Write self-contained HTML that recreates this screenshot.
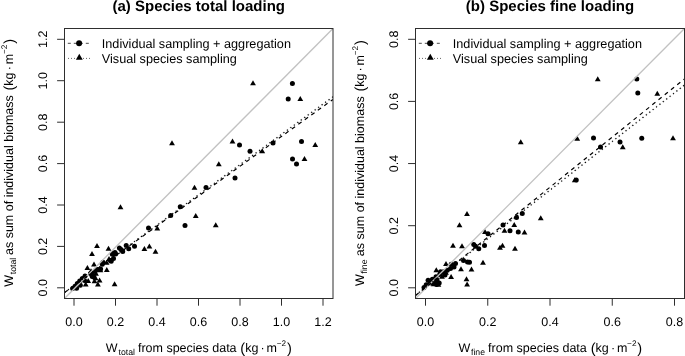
<!DOCTYPE html>
<html><head><meta charset="utf-8"><style>
html,body{margin:0;padding:0;background:#fff;}
svg{display:block;filter:grayscale(100%);}
text{font-family:"Liberation Sans",sans-serif;fill:#000;text-rendering:geometricPrecision;}
.ax{font-size:12.5px;}
.lg{font-size:12.68px;}
.sm{font-size:8.7px;}
.ttl{font-size:15px;font-weight:bold;}
</style></head><body>
<svg width="685" height="356" viewBox="0 0 685 356">
<rect width="685" height="356" fill="#fff"/>
<path d="M253.00 80.31L255.90 85.32L250.10 85.32Z"/>
<circle cx="292.40" cy="83.40" r="2.5"/>
<circle cx="288.20" cy="99.10" r="2.5"/>
<path d="M300.30 95.91L303.20 100.92L297.40 100.92Z"/>
<path d="M172.00 140.31L174.90 145.32L169.10 145.32Z"/>
<path d="M232.50 138.56L235.40 143.57L229.60 143.57Z"/>
<circle cx="239.50" cy="145.00" r="2.5"/>
<circle cx="250.00" cy="151.25" r="2.5"/>
<path d="M262.25 148.31L265.15 153.32L259.35 153.32Z"/>
<circle cx="273.00" cy="143.00" r="2.5"/>
<circle cx="301.50" cy="141.50" r="2.5"/>
<path d="M315.25 142.06L318.15 147.07L312.35 147.07Z"/>
<circle cx="292.50" cy="159.00" r="2.5"/>
<path d="M304.50 156.06L307.40 161.07L301.60 161.07Z"/>
<circle cx="296.50" cy="164.00" r="2.5"/>
<path d="M218.80 161.21L221.70 166.22L215.90 166.22Z"/>
<circle cx="235.00" cy="178.00" r="2.5"/>
<path d="M194.50 184.81L197.40 189.82L191.60 189.82Z"/>
<circle cx="206.00" cy="187.50" r="2.5"/>
<path d="M120.50 204.31L123.40 209.32L117.60 209.32Z"/>
<circle cx="180.25" cy="206.75" r="2.5"/>
<circle cx="170.70" cy="215.60" r="2.5"/>
<path d="M195.75 212.91L198.65 217.92L192.85 217.92Z"/>
<circle cx="185.00" cy="225.40" r="2.5"/>
<path d="M215.75 222.31L218.65 227.32L212.85 227.32Z"/>
<circle cx="148.50" cy="228.00" r="2.5"/>
<path d="M157.30 225.41L160.20 230.42L154.40 230.42Z"/>
<path d="M97.00 243.11L99.90 248.12L94.10 248.12Z"/>
<path d="M108.50 245.71L111.40 250.72L105.60 250.72Z"/>
<path d="M92.00 251.01L94.90 256.02L89.10 256.02Z"/>
<circle cx="126.20" cy="245.40" r="2.5"/>
<circle cx="134.50" cy="246.20" r="2.5"/>
<circle cx="128.70" cy="248.80" r="2.5"/>
<circle cx="119.40" cy="248.00" r="2.5"/>
<circle cx="122.70" cy="251.50" r="2.5"/>
<circle cx="121.00" cy="249.60" r="2.5"/>
<circle cx="115.00" cy="252.50" r="2.5"/>
<circle cx="113.30" cy="253.20" r="2.5"/>
<circle cx="115.60" cy="254.00" r="2.5"/>
<circle cx="112.30" cy="254.30" r="2.5"/>
<path d="M144.40 246.01L147.30 251.02L141.50 251.02Z"/>
<path d="M149.40 243.51L152.30 248.52L146.50 248.52Z"/>
<path d="M155.50 248.81L158.40 253.82L152.60 253.82Z"/>
<circle cx="113.50" cy="258.60" r="2.5"/>
<circle cx="110.40" cy="260.60" r="2.5"/>
<circle cx="111.20" cy="261.30" r="2.5"/>
<path d="M109.00 255.91L111.90 260.92L106.10 260.92Z"/>
<circle cx="103.00" cy="262.30" r="2.5"/>
<circle cx="102.30" cy="264.20" r="2.5"/>
<path d="M106.60 259.81L109.50 264.82L103.70 264.82Z"/>
<path d="M94.00 261.41L96.90 266.42L91.10 266.42Z"/>
<path d="M87.40 265.11L90.30 270.12L84.50 270.12Z"/>
<path d="M106.80 267.01L109.70 272.02L103.90 272.02Z"/>
<circle cx="97.50" cy="269.60" r="2.5"/>
<circle cx="100.60" cy="269.00" r="2.5"/>
<path d="M100.40 267.21L103.30 272.22L97.50 272.22Z"/>
<path d="M92.20 269.91L95.10 274.92L89.30 274.92Z"/>
<path d="M93.20 273.71L96.10 278.72L90.30 278.72Z"/>
<circle cx="93.80" cy="277.00" r="2.5"/>
<path d="M99.60 277.41L102.50 282.42L96.70 282.42Z"/>
<path d="M97.90 281.41L100.80 286.42L95.00 286.42Z"/>
<path d="M85.70 281.61L88.60 286.62L82.80 286.62Z"/>
<path d="M114.60 281.31L117.50 286.32L111.70 286.32Z"/>
<circle cx="72.60" cy="288.60" r="2.5"/>
<circle cx="75.00" cy="286.30" r="2.5"/>
<circle cx="77.30" cy="283.60" r="2.5"/>
<circle cx="79.70" cy="281.00" r="2.5"/>
<circle cx="82.30" cy="278.40" r="2.5"/>
<circle cx="85.00" cy="276.00" r="2.5"/>
<circle cx="76.60" cy="288.30" r="2.5"/>
<circle cx="80.30" cy="285.20" r="2.5"/>
<path d="M88.20 278.11L91.10 283.12L85.30 283.12Z"/>
<circle cx="90.50" cy="273.50" r="2.5"/>
<circle cx="92.00" cy="276.00" r="2.5"/>
<path d="M95.50 275.31L98.40 280.32L92.60 280.32Z"/>
<path d="M96.00 270.81L98.90 275.82L93.10 275.82Z"/>
<path d="M91.00 268.31L93.90 273.32L88.10 273.32Z"/>
<circle cx="95.00" cy="271.50" r="2.5"/>
<path d="M94.50 278.31L97.40 283.32L91.60 283.32Z"/>
<circle cx="84.50" cy="280.50" r="2.5"/>
<clipPath id="cl"><rect x="64.5" y="28.5" width="268.5" height="270.0"/></clipPath>
<g clip-path="url(#cl)">
<line x1="64.5" y1="298.5" x2="333.0" y2="28.5" stroke="#c2c2c2" stroke-width="1.35"/>
<path d="M64.38 292.15a0.6 0.6 0 1 0 1.2 0a0.6 0.6 0 1 0 -1.2 0M67.86 289.61a0.6 0.6 0 1 0 1.2 0a0.6 0.6 0 1 0 -1.2 0M71.33 287.08a0.6 0.6 0 1 0 1.2 0a0.6 0.6 0 1 0 -1.2 0M74.81 284.55a0.6 0.6 0 1 0 1.2 0a0.6 0.6 0 1 0 -1.2 0M78.28 282.02a0.6 0.6 0 1 0 1.2 0a0.6 0.6 0 1 0 -1.2 0M81.76 279.48a0.6 0.6 0 1 0 1.2 0a0.6 0.6 0 1 0 -1.2 0M85.23 276.95a0.6 0.6 0 1 0 1.2 0a0.6 0.6 0 1 0 -1.2 0M88.71 274.42a0.6 0.6 0 1 0 1.2 0a0.6 0.6 0 1 0 -1.2 0M92.18 271.88a0.6 0.6 0 1 0 1.2 0a0.6 0.6 0 1 0 -1.2 0M95.66 269.35a0.6 0.6 0 1 0 1.2 0a0.6 0.6 0 1 0 -1.2 0M99.13 266.82a0.6 0.6 0 1 0 1.2 0a0.6 0.6 0 1 0 -1.2 0M102.61 264.29a0.6 0.6 0 1 0 1.2 0a0.6 0.6 0 1 0 -1.2 0M106.08 261.75a0.6 0.6 0 1 0 1.2 0a0.6 0.6 0 1 0 -1.2 0M109.56 259.22a0.6 0.6 0 1 0 1.2 0a0.6 0.6 0 1 0 -1.2 0M113.03 256.69a0.6 0.6 0 1 0 1.2 0a0.6 0.6 0 1 0 -1.2 0M116.51 254.16a0.6 0.6 0 1 0 1.2 0a0.6 0.6 0 1 0 -1.2 0M119.98 251.62a0.6 0.6 0 1 0 1.2 0a0.6 0.6 0 1 0 -1.2 0M123.46 249.09a0.6 0.6 0 1 0 1.2 0a0.6 0.6 0 1 0 -1.2 0M126.93 246.56a0.6 0.6 0 1 0 1.2 0a0.6 0.6 0 1 0 -1.2 0M130.41 244.02a0.6 0.6 0 1 0 1.2 0a0.6 0.6 0 1 0 -1.2 0M133.88 241.49a0.6 0.6 0 1 0 1.2 0a0.6 0.6 0 1 0 -1.2 0M137.36 238.96a0.6 0.6 0 1 0 1.2 0a0.6 0.6 0 1 0 -1.2 0M140.83 236.43a0.6 0.6 0 1 0 1.2 0a0.6 0.6 0 1 0 -1.2 0M144.31 233.89a0.6 0.6 0 1 0 1.2 0a0.6 0.6 0 1 0 -1.2 0M147.78 231.36a0.6 0.6 0 1 0 1.2 0a0.6 0.6 0 1 0 -1.2 0M151.26 228.83a0.6 0.6 0 1 0 1.2 0a0.6 0.6 0 1 0 -1.2 0M154.73 226.29a0.6 0.6 0 1 0 1.2 0a0.6 0.6 0 1 0 -1.2 0M158.21 223.76a0.6 0.6 0 1 0 1.2 0a0.6 0.6 0 1 0 -1.2 0M161.68 221.23a0.6 0.6 0 1 0 1.2 0a0.6 0.6 0 1 0 -1.2 0M165.16 218.70a0.6 0.6 0 1 0 1.2 0a0.6 0.6 0 1 0 -1.2 0M168.63 216.16a0.6 0.6 0 1 0 1.2 0a0.6 0.6 0 1 0 -1.2 0M172.11 213.63a0.6 0.6 0 1 0 1.2 0a0.6 0.6 0 1 0 -1.2 0M175.58 211.10a0.6 0.6 0 1 0 1.2 0a0.6 0.6 0 1 0 -1.2 0M179.06 208.57a0.6 0.6 0 1 0 1.2 0a0.6 0.6 0 1 0 -1.2 0M182.53 206.03a0.6 0.6 0 1 0 1.2 0a0.6 0.6 0 1 0 -1.2 0M186.01 203.50a0.6 0.6 0 1 0 1.2 0a0.6 0.6 0 1 0 -1.2 0M189.48 200.97a0.6 0.6 0 1 0 1.2 0a0.6 0.6 0 1 0 -1.2 0M192.96 198.43a0.6 0.6 0 1 0 1.2 0a0.6 0.6 0 1 0 -1.2 0M196.43 195.90a0.6 0.6 0 1 0 1.2 0a0.6 0.6 0 1 0 -1.2 0M199.91 193.37a0.6 0.6 0 1 0 1.2 0a0.6 0.6 0 1 0 -1.2 0M203.38 190.84a0.6 0.6 0 1 0 1.2 0a0.6 0.6 0 1 0 -1.2 0M206.86 188.30a0.6 0.6 0 1 0 1.2 0a0.6 0.6 0 1 0 -1.2 0M210.33 185.77a0.6 0.6 0 1 0 1.2 0a0.6 0.6 0 1 0 -1.2 0M213.81 183.24a0.6 0.6 0 1 0 1.2 0a0.6 0.6 0 1 0 -1.2 0M217.28 180.71a0.6 0.6 0 1 0 1.2 0a0.6 0.6 0 1 0 -1.2 0M220.76 178.17a0.6 0.6 0 1 0 1.2 0a0.6 0.6 0 1 0 -1.2 0M224.23 175.64a0.6 0.6 0 1 0 1.2 0a0.6 0.6 0 1 0 -1.2 0M227.71 173.11a0.6 0.6 0 1 0 1.2 0a0.6 0.6 0 1 0 -1.2 0M231.18 170.57a0.6 0.6 0 1 0 1.2 0a0.6 0.6 0 1 0 -1.2 0M234.66 168.04a0.6 0.6 0 1 0 1.2 0a0.6 0.6 0 1 0 -1.2 0M238.13 165.51a0.6 0.6 0 1 0 1.2 0a0.6 0.6 0 1 0 -1.2 0M241.61 162.98a0.6 0.6 0 1 0 1.2 0a0.6 0.6 0 1 0 -1.2 0M245.08 160.44a0.6 0.6 0 1 0 1.2 0a0.6 0.6 0 1 0 -1.2 0M248.56 157.91a0.6 0.6 0 1 0 1.2 0a0.6 0.6 0 1 0 -1.2 0M252.03 155.38a0.6 0.6 0 1 0 1.2 0a0.6 0.6 0 1 0 -1.2 0M255.51 152.85a0.6 0.6 0 1 0 1.2 0a0.6 0.6 0 1 0 -1.2 0M258.98 150.31a0.6 0.6 0 1 0 1.2 0a0.6 0.6 0 1 0 -1.2 0M262.46 147.78a0.6 0.6 0 1 0 1.2 0a0.6 0.6 0 1 0 -1.2 0M265.93 145.25a0.6 0.6 0 1 0 1.2 0a0.6 0.6 0 1 0 -1.2 0M269.41 142.71a0.6 0.6 0 1 0 1.2 0a0.6 0.6 0 1 0 -1.2 0M272.88 140.18a0.6 0.6 0 1 0 1.2 0a0.6 0.6 0 1 0 -1.2 0M276.36 137.65a0.6 0.6 0 1 0 1.2 0a0.6 0.6 0 1 0 -1.2 0M279.83 135.12a0.6 0.6 0 1 0 1.2 0a0.6 0.6 0 1 0 -1.2 0M283.31 132.58a0.6 0.6 0 1 0 1.2 0a0.6 0.6 0 1 0 -1.2 0M286.78 130.05a0.6 0.6 0 1 0 1.2 0a0.6 0.6 0 1 0 -1.2 0M290.26 127.52a0.6 0.6 0 1 0 1.2 0a0.6 0.6 0 1 0 -1.2 0M293.73 124.98a0.6 0.6 0 1 0 1.2 0a0.6 0.6 0 1 0 -1.2 0M297.21 122.45a0.6 0.6 0 1 0 1.2 0a0.6 0.6 0 1 0 -1.2 0M300.68 119.92a0.6 0.6 0 1 0 1.2 0a0.6 0.6 0 1 0 -1.2 0M304.16 117.39a0.6 0.6 0 1 0 1.2 0a0.6 0.6 0 1 0 -1.2 0M307.63 114.85a0.6 0.6 0 1 0 1.2 0a0.6 0.6 0 1 0 -1.2 0M311.11 112.32a0.6 0.6 0 1 0 1.2 0a0.6 0.6 0 1 0 -1.2 0M314.58 109.79a0.6 0.6 0 1 0 1.2 0a0.6 0.6 0 1 0 -1.2 0M318.05 107.26a0.6 0.6 0 1 0 1.2 0a0.6 0.6 0 1 0 -1.2 0M321.53 104.72a0.6 0.6 0 1 0 1.2 0a0.6 0.6 0 1 0 -1.2 0M325.00 102.19a0.6 0.6 0 1 0 1.2 0a0.6 0.6 0 1 0 -1.2 0M328.48 99.66a0.6 0.6 0 1 0 1.2 0a0.6 0.6 0 1 0 -1.2 0M331.95 97.12a0.6 0.6 0 1 0 1.2 0a0.6 0.6 0 1 0 -1.2 0" fill="#000" stroke="#000" stroke-width="0.25"/>
<line x1="64.5" y1="292.5" x2="333" y2="99.4" stroke="#000" stroke-width="1.2" stroke-dasharray="4 4"/>
</g>
<rect x="64.5" y="28.5" width="268.5" height="270.0" fill="none" stroke="#2e2e2e" stroke-width="1"/>
<line x1="57.1" y1="287.8" x2="64.5" y2="287.8" stroke="#2e2e2e" stroke-width="1"/>
<text transform="translate(46.9 287.8) rotate(-90)" text-anchor="middle" class="ax">0.0</text>
<line x1="57.1" y1="246.4" x2="64.5" y2="246.4" stroke="#2e2e2e" stroke-width="1"/>
<text transform="translate(46.9 246.4) rotate(-90)" text-anchor="middle" class="ax">0.2</text>
<line x1="57.1" y1="205.0" x2="64.5" y2="205.0" stroke="#2e2e2e" stroke-width="1"/>
<text transform="translate(46.9 205.0) rotate(-90)" text-anchor="middle" class="ax">0.4</text>
<line x1="57.1" y1="163.6" x2="64.5" y2="163.6" stroke="#2e2e2e" stroke-width="1"/>
<text transform="translate(46.9 163.6) rotate(-90)" text-anchor="middle" class="ax">0.6</text>
<line x1="57.1" y1="122.2" x2="64.5" y2="122.2" stroke="#2e2e2e" stroke-width="1"/>
<text transform="translate(46.9 122.2) rotate(-90)" text-anchor="middle" class="ax">0.8</text>
<line x1="57.1" y1="80.7" x2="64.5" y2="80.7" stroke="#2e2e2e" stroke-width="1"/>
<text transform="translate(46.9 80.7) rotate(-90)" text-anchor="middle" class="ax">1.0</text>
<line x1="57.1" y1="39.3" x2="64.5" y2="39.3" stroke="#2e2e2e" stroke-width="1"/>
<text transform="translate(46.9 39.3) rotate(-90)" text-anchor="middle" class="ax">1.2</text>
<line x1="74.0" y1="298.5" x2="74.0" y2="305.7" stroke="#2e2e2e" stroke-width="1"/>
<text x="74.0" y="325.7" text-anchor="middle" class="ax">0.0</text>
<line x1="115.5" y1="298.5" x2="115.5" y2="305.7" stroke="#2e2e2e" stroke-width="1"/>
<text x="115.5" y="325.7" text-anchor="middle" class="ax">0.2</text>
<line x1="157.0" y1="298.5" x2="157.0" y2="305.7" stroke="#2e2e2e" stroke-width="1"/>
<text x="157.0" y="325.7" text-anchor="middle" class="ax">0.4</text>
<line x1="198.5" y1="298.5" x2="198.5" y2="305.7" stroke="#2e2e2e" stroke-width="1"/>
<text x="198.5" y="325.7" text-anchor="middle" class="ax">0.6</text>
<line x1="240.0" y1="298.5" x2="240.0" y2="305.7" stroke="#2e2e2e" stroke-width="1"/>
<text x="240.0" y="325.7" text-anchor="middle" class="ax">0.8</text>
<line x1="281.5" y1="298.5" x2="281.5" y2="305.7" stroke="#2e2e2e" stroke-width="1"/>
<text x="281.5" y="325.7" text-anchor="middle" class="ax">1.0</text>
<line x1="323.0" y1="298.5" x2="323.0" y2="305.7" stroke="#2e2e2e" stroke-width="1"/>
<text x="323.0" y="325.7" text-anchor="middle" class="ax">1.2</text>
<text x="198.75" y="11.3" text-anchor="middle" class="ttl">(a) Species total loading</text>
<text x="105.74" y="352.00" style="font-size:12.5px">W</text>
<text x="118.47" y="355.00" style="font-size:8.7px">total</text>
<text x="137.92" y="352.00" style="font-size:12.5px">from species data</text>
<text x="240.29" y="352.50" style="font-size:14.6px">(</text>
<text x="245.16" y="352.00" style="font-size:12.5px">kg</text>
<text x="260.48" y="352.00" style="font-size:12.5px">·</text>
<text x="266.52" y="352.00" style="font-size:12.5px">m</text>
<text x="276.70" y="346.10" style="font-size:8.2px">−2</text>
<text x="286.96" y="352.50" style="font-size:14.6px">)</text>
<text transform="translate(12.60 286.86) rotate(-90)" style="font-size:12.5px">W</text>
<text transform="translate(15.60 274.13) rotate(-90)" style="font-size:8.7px">total</text>
<text transform="translate(12.60 255.03) rotate(-90)" style="font-size:12.5px">as sum of individual biomass</text>
<text transform="translate(13.90 90.51) rotate(-90)" style="font-size:14.6px">(</text>
<text transform="translate(12.60 85.64) rotate(-90)" style="font-size:12.5px">kg</text>
<text transform="translate(12.60 70.33) rotate(-90)" style="font-size:12.5px">·</text>
<text transform="translate(12.60 64.28) rotate(-90)" style="font-size:12.5px">m</text>
<text transform="translate(6.70 54.10) rotate(-90)" style="font-size:8.2px">−2</text>
<text transform="translate(13.90 43.84) rotate(-90)" style="font-size:14.6px">)</text>
<line x1="67.8" y1="43.3" x2="89.7" y2="43.3" stroke="#4a4a4a" stroke-width="1" stroke-dasharray="3 3"/>
<circle cx="79.1" cy="43.2" r="3.0"/>
<line x1="68.1" y1="58.4" x2="90.1" y2="58.4" stroke="#555" stroke-width="1" stroke-dasharray="0.9 2.1"/>
<path d="M79.30 53.73L82.73 59.68L75.87 59.68Z"/>
<text x="101.8" y="47.8" class="lg">Individual sampling + aggregation</text>
<text x="101.8" y="62.5" class="lg">Visual species sampling</text>
<path d="M597.75 76.31L600.65 81.32L594.85 81.32Z"/>
<circle cx="636.80" cy="79.00" r="2.5"/>
<circle cx="637.80" cy="93.10" r="2.5"/>
<path d="M657.30 90.71L660.20 95.72L654.40 95.72Z"/>
<path d="M520.75 139.31L523.65 144.32L517.85 144.32Z"/>
<path d="M577.25 135.81L580.15 140.82L574.35 140.82Z"/>
<circle cx="593.50" cy="138.00" r="2.5"/>
<circle cx="600.50" cy="147.00" r="2.5"/>
<circle cx="620.00" cy="142.00" r="2.5"/>
<path d="M622.75 144.31L625.65 149.32L619.85 149.32Z"/>
<circle cx="641.75" cy="138.25" r="2.5"/>
<path d="M673.00 135.31L675.90 140.32L670.10 140.32Z"/>
<path d="M574.75 177.31L577.65 182.32L571.85 182.32Z"/>
<circle cx="576.25" cy="180.00" r="2.5"/>
<path d="M467.00 211.06L469.90 216.07L464.10 216.07Z"/>
<path d="M459.50 222.31L462.40 227.32L456.60 227.32Z"/>
<path d="M540.75 215.31L543.65 220.32L537.85 220.32Z"/>
<circle cx="516.50" cy="217.50" r="2.5"/>
<circle cx="522.25" cy="213.50" r="2.5"/>
<circle cx="503.00" cy="225.00" r="2.5"/>
<path d="M514.25 222.06L517.15 227.07L511.35 227.07Z"/>
<path d="M504.50 227.81L507.40 232.82L501.60 232.82Z"/>
<circle cx="510.00" cy="230.75" r="2.5"/>
<circle cx="518.25" cy="232.00" r="2.5"/>
<path d="M524.50 229.41L527.40 234.42L521.60 234.42Z"/>
<path d="M485.00 229.06L487.90 234.07L482.10 234.07Z"/>
<circle cx="488.00" cy="233.75" r="2.5"/>
<path d="M453.00 242.81L455.90 247.82L450.10 247.82Z"/>
<path d="M462.00 243.31L464.90 248.32L459.10 248.32Z"/>
<circle cx="473.75" cy="244.50" r="2.5"/>
<circle cx="475.50" cy="246.25" r="2.5"/>
<circle cx="478.75" cy="248.75" r="2.5"/>
<circle cx="484.50" cy="245.50" r="2.5"/>
<path d="M500.00 244.81L502.90 249.82L497.10 249.82Z"/>
<path d="M502.50 242.81L505.40 247.82L499.60 247.82Z"/>
<path d="M515.00 245.81L517.90 250.82L512.10 250.82Z"/>
<path d="M483.00 259.81L485.90 264.82L480.10 264.82Z"/>
<circle cx="463.50" cy="260.50" r="2.5"/>
<circle cx="467.50" cy="262.00" r="2.5"/>
<circle cx="469.50" cy="262.30" r="2.5"/>
<path d="M446.00 260.91L448.90 265.92L443.10 265.92Z"/>
<path d="M461.00 266.31L463.90 271.32L458.10 271.32Z"/>
<path d="M471.50 266.41L474.40 271.42L468.60 271.42Z"/>
<path d="M436.30 267.21L439.20 272.22L433.40 272.22Z"/>
<path d="M451.10 274.11L454.00 279.12L448.20 279.12Z"/>
<path d="M466.50 276.31L469.40 281.32L463.60 281.32Z"/>
<path d="M467.10 281.51L470.00 286.52L464.20 286.52Z"/>
<circle cx="451.20" cy="264.30" r="2.5"/>
<circle cx="455.50" cy="263.60" r="2.5"/>
<circle cx="450.50" cy="268.50" r="2.5"/>
<circle cx="454.00" cy="267.00" r="2.5"/>
<circle cx="447.30" cy="270.20" r="2.5"/>
<circle cx="443.50" cy="271.70" r="2.5"/>
<circle cx="439.80" cy="274.20" r="2.5"/>
<circle cx="436.00" cy="276.70" r="2.5"/>
<circle cx="432.40" cy="279.20" r="2.5"/>
<circle cx="428.10" cy="280.30" r="2.5"/>
<circle cx="426.20" cy="284.70" r="2.5"/>
<path d="M436.00 278.81L438.90 283.82L433.10 283.82Z"/>
<path d="M438.40 281.81L441.30 286.82L435.50 286.82Z"/>
<path d="M433.60 281.31L436.50 286.32L430.70 286.32Z"/>
<path d="M446.00 269.81L448.90 274.82L443.10 274.82Z"/>
<path d="M442.00 273.81L444.90 278.82L439.10 278.82Z"/>
<circle cx="445.00" cy="275.00" r="2.5"/>
<circle cx="440.50" cy="271.70" r="2.5"/>
<circle cx="430.00" cy="283.00" r="2.5"/>
<circle cx="424.00" cy="287.50" r="2.5"/>
<circle cx="437.00" cy="280.00" r="2.5"/>
<circle cx="439.20" cy="283.00" r="2.5"/>
<circle cx="434.00" cy="279.50" r="2.5"/>
<circle cx="432.00" cy="282.50" r="2.5"/>
<circle cx="436.50" cy="284.50" r="2.5"/>
<clipPath id="cr"><rect x="415.5" y="28.5" width="269.0" height="270.0"/></clipPath>
<g clip-path="url(#cr)">
<line x1="415.5" y1="298.5" x2="684.5" y2="28.5" stroke="#c2c2c2" stroke-width="1.35"/>
<line x1="415.5" y1="295.5" x2="684.5" y2="78.9" stroke="#000" stroke-width="1.2" stroke-dasharray="4 4"/>
<path d="M415.37 294.83a0.6 0.6 0 1 0 1.2 0a0.6 0.6 0 1 0 -1.2 0M418.76 292.18a0.6 0.6 0 1 0 1.2 0a0.6 0.6 0 1 0 -1.2 0M422.15 289.54a0.6 0.6 0 1 0 1.2 0a0.6 0.6 0 1 0 -1.2 0M425.54 286.89a0.6 0.6 0 1 0 1.2 0a0.6 0.6 0 1 0 -1.2 0M428.93 284.24a0.6 0.6 0 1 0 1.2 0a0.6 0.6 0 1 0 -1.2 0M432.31 281.59a0.6 0.6 0 1 0 1.2 0a0.6 0.6 0 1 0 -1.2 0M435.70 278.94a0.6 0.6 0 1 0 1.2 0a0.6 0.6 0 1 0 -1.2 0M439.09 276.30a0.6 0.6 0 1 0 1.2 0a0.6 0.6 0 1 0 -1.2 0M442.48 273.65a0.6 0.6 0 1 0 1.2 0a0.6 0.6 0 1 0 -1.2 0M445.87 271.00a0.6 0.6 0 1 0 1.2 0a0.6 0.6 0 1 0 -1.2 0M449.26 268.35a0.6 0.6 0 1 0 1.2 0a0.6 0.6 0 1 0 -1.2 0M452.64 265.71a0.6 0.6 0 1 0 1.2 0a0.6 0.6 0 1 0 -1.2 0M456.03 263.06a0.6 0.6 0 1 0 1.2 0a0.6 0.6 0 1 0 -1.2 0M459.42 260.41a0.6 0.6 0 1 0 1.2 0a0.6 0.6 0 1 0 -1.2 0M462.81 257.76a0.6 0.6 0 1 0 1.2 0a0.6 0.6 0 1 0 -1.2 0M466.20 255.12a0.6 0.6 0 1 0 1.2 0a0.6 0.6 0 1 0 -1.2 0M469.58 252.47a0.6 0.6 0 1 0 1.2 0a0.6 0.6 0 1 0 -1.2 0M472.97 249.82a0.6 0.6 0 1 0 1.2 0a0.6 0.6 0 1 0 -1.2 0M476.36 247.17a0.6 0.6 0 1 0 1.2 0a0.6 0.6 0 1 0 -1.2 0M479.75 244.53a0.6 0.6 0 1 0 1.2 0a0.6 0.6 0 1 0 -1.2 0M483.14 241.88a0.6 0.6 0 1 0 1.2 0a0.6 0.6 0 1 0 -1.2 0M486.53 239.23a0.6 0.6 0 1 0 1.2 0a0.6 0.6 0 1 0 -1.2 0M489.91 236.58a0.6 0.6 0 1 0 1.2 0a0.6 0.6 0 1 0 -1.2 0M493.30 233.94a0.6 0.6 0 1 0 1.2 0a0.6 0.6 0 1 0 -1.2 0M496.69 231.29a0.6 0.6 0 1 0 1.2 0a0.6 0.6 0 1 0 -1.2 0M500.08 228.64a0.6 0.6 0 1 0 1.2 0a0.6 0.6 0 1 0 -1.2 0M503.47 225.99a0.6 0.6 0 1 0 1.2 0a0.6 0.6 0 1 0 -1.2 0M506.86 223.35a0.6 0.6 0 1 0 1.2 0a0.6 0.6 0 1 0 -1.2 0M510.24 220.70a0.6 0.6 0 1 0 1.2 0a0.6 0.6 0 1 0 -1.2 0M513.63 218.05a0.6 0.6 0 1 0 1.2 0a0.6 0.6 0 1 0 -1.2 0M517.02 215.40a0.6 0.6 0 1 0 1.2 0a0.6 0.6 0 1 0 -1.2 0M520.41 212.75a0.6 0.6 0 1 0 1.2 0a0.6 0.6 0 1 0 -1.2 0M523.80 210.11a0.6 0.6 0 1 0 1.2 0a0.6 0.6 0 1 0 -1.2 0M527.18 207.46a0.6 0.6 0 1 0 1.2 0a0.6 0.6 0 1 0 -1.2 0M530.57 204.81a0.6 0.6 0 1 0 1.2 0a0.6 0.6 0 1 0 -1.2 0M533.96 202.16a0.6 0.6 0 1 0 1.2 0a0.6 0.6 0 1 0 -1.2 0M537.35 199.52a0.6 0.6 0 1 0 1.2 0a0.6 0.6 0 1 0 -1.2 0M540.74 196.87a0.6 0.6 0 1 0 1.2 0a0.6 0.6 0 1 0 -1.2 0M544.13 194.22a0.6 0.6 0 1 0 1.2 0a0.6 0.6 0 1 0 -1.2 0M547.51 191.57a0.6 0.6 0 1 0 1.2 0a0.6 0.6 0 1 0 -1.2 0M550.90 188.93a0.6 0.6 0 1 0 1.2 0a0.6 0.6 0 1 0 -1.2 0M554.29 186.28a0.6 0.6 0 1 0 1.2 0a0.6 0.6 0 1 0 -1.2 0M557.68 183.63a0.6 0.6 0 1 0 1.2 0a0.6 0.6 0 1 0 -1.2 0M561.07 180.98a0.6 0.6 0 1 0 1.2 0a0.6 0.6 0 1 0 -1.2 0M564.46 178.34a0.6 0.6 0 1 0 1.2 0a0.6 0.6 0 1 0 -1.2 0M567.84 175.69a0.6 0.6 0 1 0 1.2 0a0.6 0.6 0 1 0 -1.2 0M571.23 173.04a0.6 0.6 0 1 0 1.2 0a0.6 0.6 0 1 0 -1.2 0M574.62 170.39a0.6 0.6 0 1 0 1.2 0a0.6 0.6 0 1 0 -1.2 0M578.01 167.75a0.6 0.6 0 1 0 1.2 0a0.6 0.6 0 1 0 -1.2 0M581.40 165.10a0.6 0.6 0 1 0 1.2 0a0.6 0.6 0 1 0 -1.2 0M584.78 162.45a0.6 0.6 0 1 0 1.2 0a0.6 0.6 0 1 0 -1.2 0M588.17 159.80a0.6 0.6 0 1 0 1.2 0a0.6 0.6 0 1 0 -1.2 0M591.56 157.15a0.6 0.6 0 1 0 1.2 0a0.6 0.6 0 1 0 -1.2 0M594.95 154.51a0.6 0.6 0 1 0 1.2 0a0.6 0.6 0 1 0 -1.2 0M598.34 151.86a0.6 0.6 0 1 0 1.2 0a0.6 0.6 0 1 0 -1.2 0M601.73 149.21a0.6 0.6 0 1 0 1.2 0a0.6 0.6 0 1 0 -1.2 0M605.11 146.56a0.6 0.6 0 1 0 1.2 0a0.6 0.6 0 1 0 -1.2 0M608.50 143.92a0.6 0.6 0 1 0 1.2 0a0.6 0.6 0 1 0 -1.2 0M611.89 141.27a0.6 0.6 0 1 0 1.2 0a0.6 0.6 0 1 0 -1.2 0M615.28 138.62a0.6 0.6 0 1 0 1.2 0a0.6 0.6 0 1 0 -1.2 0M618.67 135.97a0.6 0.6 0 1 0 1.2 0a0.6 0.6 0 1 0 -1.2 0M622.06 133.33a0.6 0.6 0 1 0 1.2 0a0.6 0.6 0 1 0 -1.2 0M625.44 130.68a0.6 0.6 0 1 0 1.2 0a0.6 0.6 0 1 0 -1.2 0M628.83 128.03a0.6 0.6 0 1 0 1.2 0a0.6 0.6 0 1 0 -1.2 0M632.22 125.38a0.6 0.6 0 1 0 1.2 0a0.6 0.6 0 1 0 -1.2 0M635.61 122.74a0.6 0.6 0 1 0 1.2 0a0.6 0.6 0 1 0 -1.2 0M639.00 120.09a0.6 0.6 0 1 0 1.2 0a0.6 0.6 0 1 0 -1.2 0M642.38 117.44a0.6 0.6 0 1 0 1.2 0a0.6 0.6 0 1 0 -1.2 0M645.77 114.79a0.6 0.6 0 1 0 1.2 0a0.6 0.6 0 1 0 -1.2 0M649.16 112.15a0.6 0.6 0 1 0 1.2 0a0.6 0.6 0 1 0 -1.2 0M652.55 109.50a0.6 0.6 0 1 0 1.2 0a0.6 0.6 0 1 0 -1.2 0M655.94 106.85a0.6 0.6 0 1 0 1.2 0a0.6 0.6 0 1 0 -1.2 0M659.33 104.20a0.6 0.6 0 1 0 1.2 0a0.6 0.6 0 1 0 -1.2 0M662.71 101.55a0.6 0.6 0 1 0 1.2 0a0.6 0.6 0 1 0 -1.2 0M666.10 98.91a0.6 0.6 0 1 0 1.2 0a0.6 0.6 0 1 0 -1.2 0M669.49 96.26a0.6 0.6 0 1 0 1.2 0a0.6 0.6 0 1 0 -1.2 0M672.88 93.61a0.6 0.6 0 1 0 1.2 0a0.6 0.6 0 1 0 -1.2 0M676.27 90.96a0.6 0.6 0 1 0 1.2 0a0.6 0.6 0 1 0 -1.2 0M679.66 88.32a0.6 0.6 0 1 0 1.2 0a0.6 0.6 0 1 0 -1.2 0M683.04 85.67a0.6 0.6 0 1 0 1.2 0a0.6 0.6 0 1 0 -1.2 0" fill="#000" stroke="#000" stroke-width="0.25"/>
</g>
<rect x="415.5" y="28.5" width="269.0" height="270.0" fill="none" stroke="#2e2e2e" stroke-width="1"/>
<line x1="408.1" y1="287.8" x2="415.5" y2="287.8" stroke="#2e2e2e" stroke-width="1"/>
<text transform="translate(397.9 287.8) rotate(-90)" text-anchor="middle" class="ax">0.0</text>
<line x1="408.1" y1="225.7" x2="415.5" y2="225.7" stroke="#2e2e2e" stroke-width="1"/>
<text transform="translate(397.9 225.7) rotate(-90)" text-anchor="middle" class="ax">0.2</text>
<line x1="408.1" y1="163.55" x2="415.5" y2="163.55" stroke="#2e2e2e" stroke-width="1"/>
<text transform="translate(397.9 163.55) rotate(-90)" text-anchor="middle" class="ax">0.4</text>
<line x1="408.1" y1="101.4" x2="415.5" y2="101.4" stroke="#2e2e2e" stroke-width="1"/>
<text transform="translate(397.9 101.4) rotate(-90)" text-anchor="middle" class="ax">0.6</text>
<line x1="408.1" y1="39.3" x2="415.5" y2="39.3" stroke="#2e2e2e" stroke-width="1"/>
<text transform="translate(397.9 39.3) rotate(-90)" text-anchor="middle" class="ax">0.8</text>
<line x1="425.5" y1="298.5" x2="425.5" y2="305.7" stroke="#2e2e2e" stroke-width="1"/>
<text x="425.5" y="325.7" text-anchor="middle" class="ax">0.0</text>
<line x1="487.75" y1="298.5" x2="487.75" y2="305.7" stroke="#2e2e2e" stroke-width="1"/>
<text x="487.75" y="325.7" text-anchor="middle" class="ax">0.2</text>
<line x1="550.0" y1="298.5" x2="550.0" y2="305.7" stroke="#2e2e2e" stroke-width="1"/>
<text x="550.0" y="325.7" text-anchor="middle" class="ax">0.4</text>
<line x1="612.25" y1="298.5" x2="612.25" y2="305.7" stroke="#2e2e2e" stroke-width="1"/>
<text x="612.25" y="325.7" text-anchor="middle" class="ax">0.6</text>
<line x1="674.5" y1="298.5" x2="674.5" y2="305.7" stroke="#2e2e2e" stroke-width="1"/>
<text x="674.5" y="325.7" text-anchor="middle" class="ax">0.8</text>
<text x="550.0" y="11.3" text-anchor="middle" class="ttl">(b) Species fine loading</text>
<text x="458.55" y="352.00" style="font-size:12.5px">W</text>
<text x="470.98" y="355.00" style="font-size:8.7px">fine</text>
<text x="488.12" y="352.00" style="font-size:12.5px">from species data</text>
<text x="590.69" y="352.50" style="font-size:14.6px">(</text>
<text x="595.56" y="352.00" style="font-size:12.5px">kg</text>
<text x="610.88" y="352.00" style="font-size:12.5px">·</text>
<text x="616.92" y="352.00" style="font-size:12.5px">m</text>
<text x="627.10" y="346.10" style="font-size:8.2px">−2</text>
<text x="637.36" y="352.50" style="font-size:14.6px">)</text>
<text transform="translate(364.10 286.06) rotate(-90)" style="font-size:12.5px">W</text>
<text transform="translate(367.10 273.52) rotate(-90)" style="font-size:8.7px">fine</text>
<text transform="translate(364.10 256.13) rotate(-90)" style="font-size:12.5px">as sum of individual biomass</text>
<text transform="translate(365.40 91.61) rotate(-90)" style="font-size:14.6px">(</text>
<text transform="translate(364.10 86.74) rotate(-90)" style="font-size:12.5px">kg</text>
<text transform="translate(364.10 71.42) rotate(-90)" style="font-size:12.5px">·</text>
<text transform="translate(364.10 65.38) rotate(-90)" style="font-size:12.5px">m</text>
<text transform="translate(358.20 55.20) rotate(-90)" style="font-size:8.2px">−2</text>
<text transform="translate(365.40 44.94) rotate(-90)" style="font-size:14.6px">)</text>
<line x1="418.8" y1="43.3" x2="440.7" y2="43.3" stroke="#4a4a4a" stroke-width="1" stroke-dasharray="3 3"/>
<circle cx="430.1" cy="43.2" r="3.0"/>
<line x1="419.1" y1="58.4" x2="441.1" y2="58.4" stroke="#555" stroke-width="1" stroke-dasharray="0.9 2.1"/>
<path d="M430.30 53.73L433.73 59.68L426.87 59.68Z"/>
<text x="452.8" y="47.8" class="lg">Individual sampling + aggregation</text>
<text x="452.8" y="62.5" class="lg">Visual species sampling</text>
</svg>
</body></html>
